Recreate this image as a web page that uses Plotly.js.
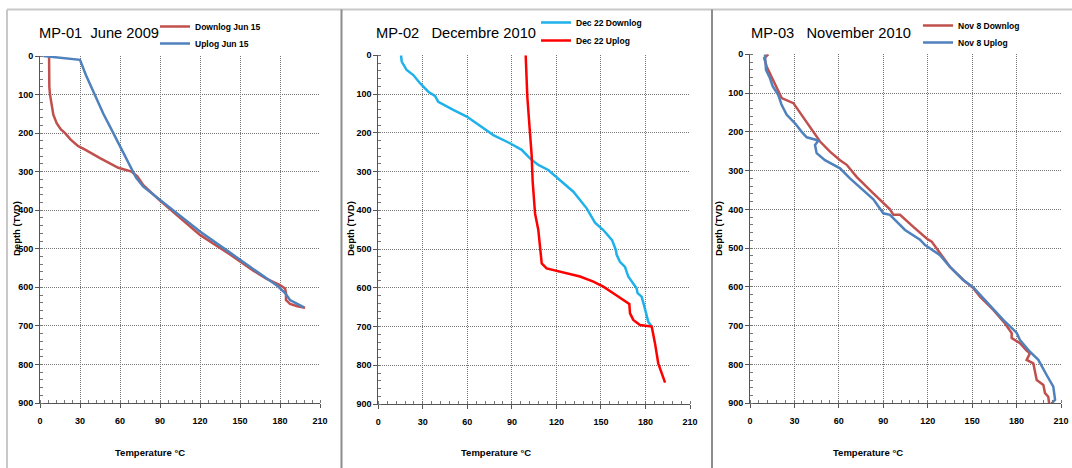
<!DOCTYPE html>
<html>
<head>
<meta charset="utf-8">
<script src="https://cdn.plot.ly/plotly-3.0.1.min.js"></script>
<style>html,body{margin:0;padding:0;background:#fff;}#chart{width:1072px;height:468px;}</style>
</head>
<body>
<div id="chart"></div>
<script>
// ---- Data (temperature °C vs depth TVD m) ----
var mp01DownT = [6.8, 6.6, 7.0, 7.5, 8.25, 10, 12.5, 15.5, 18.8, 23, 28.7, 33.8, 45, 58.7, 68.7, 73, 77.5, 90, 105, 120, 142.5, 160, 170, 180, 183.8, 184.5, 184.5, 187.5, 193, 198.8];
var mp01DownD = [0, 50, 80, 100, 114, 152, 174, 190, 200, 217, 234, 243, 265, 290, 300, 312, 335, 375, 420, 464, 515, 557, 578, 594, 603, 615, 633, 643, 649, 653];
var mp01UpT = [2.5, 30, 34.5, 40.7, 47.5, 55, 62.5, 69.5, 72, 77.5, 100, 120, 142.5, 170, 178.7, 183.8, 187.5, 193, 198];
var mp01UpD = [0, 10, 50, 100, 150, 200, 250, 300, 315, 339, 400, 455, 510, 577, 598, 615, 633, 643, 652];

var mp02DownT = [15.3, 15.8, 19.1, 23.6, 28.1, 33.7, 38.2, 40.4, 50.5, 59.6, 68.5, 77.5, 88.7, 96.6, 102.2, 107.8, 114.5, 122.4, 131.4, 140.4, 146, 151.6, 157.5, 160.1, 160.6, 162.8, 166.2, 168.4, 171.8, 174, 174.7, 177.4, 179, 180.4, 181.9, 184.2];
var mp02DownD = [0, 16, 38, 51, 72, 94, 105, 120, 141, 158, 182, 206, 227, 244, 266, 283, 296, 322, 352, 395, 432, 451, 477, 503, 515, 533, 546, 571, 588, 601, 614, 623, 645, 666, 688, 700];
var mp02UpT = [99.3, 100.4, 102.2, 103.3, 104, 104.9, 105.6, 107.8, 108.9, 110.1, 113.4, 122.4, 135.9, 144.9, 151.6, 158.3, 165.1, 169.1, 169.6, 171.8, 176.3, 184.2, 186.4, 188.6, 193.2];
var mp02UpD = [0, 107, 201, 257, 326, 373, 408, 451, 503, 537, 550, 559, 571, 584, 597, 614, 632, 642, 666, 683, 696, 700, 743, 795, 845];

var mp03DownT = [12.4, 9.6, 11.3, 14.6, 18, 21.4, 29.3, 34.9, 40.5, 47.3, 54, 60.8, 65.3, 72, 81, 87.8, 94.5, 96.8, 101.3, 110.3, 119.3, 122.7, 128.3, 135, 144, 150.8, 155.3, 164.3, 172.2, 176.7, 176.7, 182.3, 186.8, 189, 186.8, 191.3, 193.6, 198.1, 199.2, 201.4, 202];
var mp03DownD = [0, 10, 32, 58, 84, 113, 126, 156, 187, 225, 251, 273, 285, 316, 350, 376, 400, 414, 414, 445, 475, 483, 513, 548, 582, 603, 625, 659, 694, 719, 732, 745, 764, 771, 788, 797, 840, 853, 874, 883, 900];
var mp03UpT = [10.1, 10.8, 13.5, 15.3, 19.1, 21.4, 24.8, 30.4, 34.9, 38.3, 45, 46.1, 43.9, 45, 50.6, 60.8, 67.5, 75.4, 83.3, 90, 94.5, 104.7, 114.8, 118.2, 128.3, 135, 144, 150.8, 162, 171, 180, 182.3, 189, 194.7, 200.3, 204.8, 206, 203.7];
var mp03UpD = [0, 40, 62, 82, 105, 131, 156, 178, 200, 214, 221, 223, 234, 255, 273, 294, 320, 346, 374, 410, 414, 453, 478, 492, 518, 548, 582, 601, 647, 685, 718, 737, 767, 788, 827, 857, 891, 900];

var names = ["Downlog Jun 15", "Uplog Jun 15", "Dec 22 Downlog", "Dec 22 Uplog", "Nov 8 Downlog", "Nov 8 Uplog"];
var panelTitles = ["MP-01  June 2009", "MP-02   Decembre 2010", "MP-03   November 2010"];
var xTickVals = [0, 30, 60, 90, 120, 150, 180, 210];
var yTickVals = [0, 100, 200, 300, 400, 500, 600, 700, 800, 900];
var xTitle = "Temperature °C";
var yTitle = "Depth (TVD)";

// ---- Styling ----
var W = 1072, H = 468;
var FONT = "Liberation Sans, Arial, sans-serif";
var tickFont = {family: FONT, size: 9, color: "#000", weight: "bold"};
function px(x) { return x / W; }
function py(y) { return 1 - y / H; }

var legendIds = ["legend", "legend2", "legend3", "legend4", "legend5", "legend6"];
function line(x, y, name, color, xa, ya, leg) {
  return {type: "scatter", mode: "lines", x: x, y: y, name: name, xaxis: xa, yaxis: ya, legend: leg,
    line: {color: color, width: 2.5}, hoverinfo: "x+y"};
}
var data = [
  line(mp01DownT, mp01DownD, names[0], "#C0504D", "x", "y", legendIds[0]),
  line(mp01UpT, mp01UpD, names[1], "#4F81BD", "x", "y", legendIds[1]),
  line(mp02DownT, mp02DownD, names[2], "#1EB1EB", "x2", "y2", legendIds[2]),
  line(mp02UpT, mp02UpD, names[3], "#FF0000", "x2", "y2", legendIds[3]),
  line(mp03DownT, mp03DownD, names[4], "#C0504D", "x3", "y3", legendIds[4]),
  line(mp03UpT, mp03UpD, names[5], "#4F81BD", "x3", "y3", legendIds[5])
];

var GRID = "#777";
function xaxis(d0, d1, anchor) {
  return {domain: [px(d0), px(d1)], anchor: anchor, range: [0, 210], tickvals: xTickVals, ticktext: xTickVals.map(String),
    showgrid: true, gridcolor: GRID, griddash: "1px,1px", gridwidth: 1, zeroline: false,
    showline: true, linecolor: "#555", linewidth: 1, ticks: "outside", ticklen: 4, tickcolor: "#555",
    ticklabelstandoff: 5, tickfont: tickFont, fixedrange: true,
    minor: {ticks: "inside", dtick: 6, tick0: 0, ticklen: 3, tickcolor: "#777", showgrid: false}};
}
function yaxis(t, b, anchor) {
  return {domain: [py(b), py(t)], anchor: anchor, range: [900, 0], tickvals: yTickVals, ticktext: yTickVals.map(String),
    showgrid: true, gridcolor: GRID, griddash: "1px,1px", gridwidth: 1, zeroline: false,
    showline: true, linecolor: "#555", linewidth: 1, ticks: "outside", ticklen: 4, tickcolor: "#555",
    tickfont: tickFont, fixedrange: true,
    minor: {ticks: "inside", dtick: 20, tick0: 0, ticklen: 3, tickcolor: "#777", showgrid: false}};
}

var panels = [
  {x0: 40, x1: 320, y0: 56, y1: 403, titleX: 37, xtX: 150, ytX: 16},
  {x0: 378.3, x1: 690, y0: 55.3, y1: 404, titleX: 374, xtX: 496, ytX: 350},
  {x0: 750, x1: 1061, y0: 54.3, y1: 403.3, titleX: 749, xtX: 868, ytX: 718}
];
// legend box top-left positions (px): one entry each
var legendPos = [[155, 12], [155, 29], [536, 8], [536, 26], [918, 11], [918, 28]];

var annotations = [];
panels.forEach(function (p, i) {
  annotations.push({xref: "paper", yref: "paper", x: px(p.titleX), y: py(33), xanchor: "left", yanchor: "middle",
    text: panelTitles[i], showarrow: false, font: {family: FONT, size: 14.7, color: "#000"}});
  annotations.push({xref: "paper", yref: "paper", x: px(p.xtX), y: py(452), xanchor: "center", yanchor: "middle",
    text: xTitle, showarrow: false, font: {family: FONT, size: 9.5, color: "#000", weight: "bold"}});
  annotations.push({xref: "paper", yref: "paper", x: px(p.ytX), y: py(229), xanchor: "center", yanchor: "middle",
    text: yTitle, textangle: -90, showarrow: false, font: {family: FONT, size: 9.5, color: "#000", weight: "bold"}});
});

function legend(pos) {
  return {x: px(pos[0]), y: py(pos[1]), xanchor: "left", yanchor: "top", bgcolor: "rgba(0,0,0,0)",
    font: {family: FONT, size: 8.5, color: "#000", weight: "bold"}, tracegroupgap: 0, itemwidth: 30,
    borderwidth: 0};
}

var shapes = [
  {type: "line", xref: "paper", yref: "paper", x0: px(7), x1: 1, y0: py(9.5), y1: py(9.5), line: {color: "#c8c8c8", width: 2}},
  {type: "line", xref: "paper", yref: "paper", x0: px(7), x1: px(7), y0: py(9.5), y1: 0, line: {color: "#c8c8c8", width: 2}},
  {type: "line", xref: "paper", yref: "paper", x0: px(341.5), x1: px(341.5), y0: py(9.5), y1: 0, line: {color: "#8c8c8c", width: 2}},
  {type: "line", xref: "paper", yref: "paper", x0: px(712), x1: px(712), y0: py(9.5), y1: 0, line: {color: "#8c8c8c", width: 2}}
];

var layout = {
  width: W, height: H, margin: {l: 0, r: 0, t: 0, b: 0}, paper_bgcolor: "#fff", plot_bgcolor: "#fff",
  showlegend: true,
  xaxis: xaxis(panels[0].x0, panels[0].x1, "y"),
  yaxis: yaxis(panels[0].y0, panels[0].y1, "x"),
  xaxis2: xaxis(panels[1].x0, panels[1].x1, "y2"),
  yaxis2: yaxis(panels[1].y0, panels[1].y1, "x2"),
  xaxis3: xaxis(panels[2].x0, panels[2].x1, "y3"),
  yaxis3: yaxis(panels[2].y0, panels[2].y1, "x3"),
  annotations: annotations, shapes: shapes
};
legendIds.forEach(function (id, i) { layout[id] = legend(legendPos[i]); });

Plotly.newPlot("chart", data, layout, {displayModeBar: false, staticPlot: true});
</script>
</body>
</html>
